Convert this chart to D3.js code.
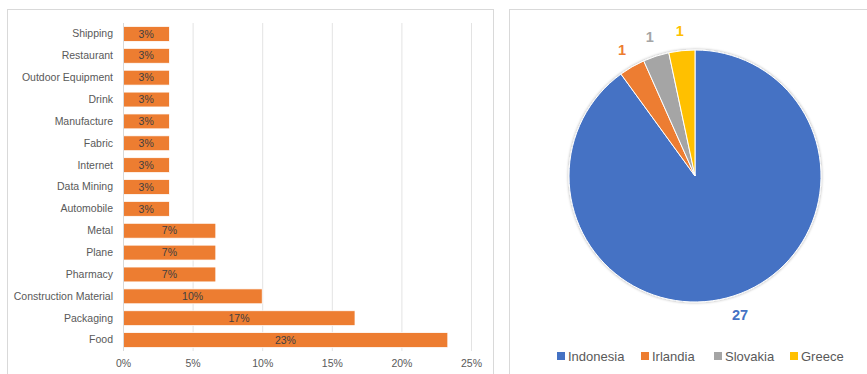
<!DOCTYPE html>
<html>
<head>
<meta charset="utf-8">
<script src="https://cdn.jsdelivr.net/npm/d3@7"></script>
<style>
  body { margin: 0; background: #fff; }
  text { font-family: "Liberation Sans", "DejaVu Sans", sans-serif; }
</style>
</head>
<body>
<script>
// bar chart data (share of companies per industry)
const industries = ["Shipping", "Restaurant", "Outdoor Equipment", "Drink", "Manufacture",
    "Fabric", "Internet", "Data Mining", "Automobile", "Metal", "Plane", "Pharmacy",
    "Construction Material", "Packaging", "Food"];
const industryShare = [1/30, 1/30, 1/30, 1/30, 1/30, 1/30, 1/30, 1/30, 1/30,
    2/30, 2/30, 2/30, 3/30, 5/30, 7/30];
const shareTicks = [0, 0.05, 0.10, 0.15, 0.20, 0.25];

// pie chart data (companies per country)
const countries = ["Indonesia", "Irlandia", "Slovakia", "Greece"];
const countryCounts = [27, 1, 1, 1];
const countryColors = ["#4472C4", "#ED7D31", "#A5A5A5", "#FFC000"];

const W = 867, H = 374;
const svg = d3.select("body").append("svg")
    .attr("width", W)
    .attr("height", H);

/** panel frames */
svg.append("rect")
    .attr("x", 7.5).attr("y", 9.5)
    .attr("width", 486).attr("height", 370)
    .attr("fill", "#fff")
    .attr("stroke", "#d9d9d9");
svg.append("rect")
    .attr("x", 509.5).attr("y", 9.5)
    .attr("width", 370).attr("height", 370)
    .attr("fill", "#fff")
    .attr("stroke", "#d9d9d9");

/** bar chart */
const plot = { left: 123, right: 471, top: 23, bottom: 351 };
const x = d3.scaleLinear()
    .domain([0, 0.25])
    .range([plot.left, plot.right]);
const y = d3.scaleBand()
    .domain(industries)
    .range([plot.top, plot.bottom])
    .paddingInner(0.32)
    .paddingOuter(0.16);

const bar = svg.append("g").attr("class", "barChart");

// grid
bar.append("g")
    .attr("class", "grid")
    .selectAll("line")
    .data(shareTicks.slice(1))
    .enter().append("line")
    .attr("x1", d => x(d) + 0.5)
    .attr("x2", d => x(d) + 0.5)
    .attr("y1", plot.top)
    .attr("y2", plot.bottom)
    .attr("stroke", "#e3e3e3")
    .attr("stroke-width", 1);

// x axis labels
const axisX = d3.axisBottom(x)
    .tickValues(shareTicks)
    .tickSize(0)
    .tickPadding(9)
    .tickFormat(d3.format(".0%"));
const gx = bar.append("g")
    .attr("class", "axis_x")
    .attr("transform", `translate(0, ${plot.bottom})`)
    .call(axisX);
gx.select(".domain").remove();
gx.selectAll("text")
    .attr("font-size", 10.5)
    .attr("fill", "#595959")
    .style("font-family", "Liberation Sans, sans-serif");

// y axis labels
const axisY = d3.axisLeft(y)
    .tickSize(0)
    .tickPadding(10);
const gy = bar.append("g")
    .attr("class", "axis_y")
    .attr("transform", `translate(${plot.left}, 0)`)
    .call(axisY);
gy.select(".domain").remove();
gy.selectAll("text")
    .attr("font-size", 10.5)
    .attr("fill", "#595959")
    .style("font-family", "Liberation Sans, sans-serif");

// bars
bar.append("g")
    .attr("class", "bars")
    .selectAll("rect")
    .data(industries)
    .enter().append("rect")
    .attr("x", x(0))
    .attr("y", d => y(d))
    .attr("width", (d, i) => x(industryShare[i]) - x(0))
    .attr("height", y.bandwidth())
    .attr("fill", "#ED7D31")
    .attr("stroke", "#fff")
    .attr("stroke-width", 0.75);

// zero line
bar.append("line")
    .attr("x1", x(0) + 0.5).attr("x2", x(0) + 0.5)
    .attr("y1", plot.top).attr("y2", plot.bottom)
    .attr("stroke", "#d9d9d9");

// bar labels
bar.append("g")
    .attr("class", "barLabels")
    .selectAll("text")
    .data(industries)
    .enter().append("text")
    .attr("x", (d, i) => (x(0) + x(industryShare[i])) / 2)
    .attr("y", d => y(d) + y.bandwidth() / 2)
    .attr("dy", "0.35em")
    .attr("text-anchor", "middle")
    .attr("font-size", 10.5)
    .attr("fill", "#404040")
    .text((d, i) => d3.format(".0%")(industryShare[i]));

/** pie chart */
const cx = 695, cy = 176, R = 126;
const pie = d3.pie().sort(null).value(d => d)(countryCounts);
const arc = d3.arc().innerRadius(0).outerRadius(R);
const labelArc = d3.arc().innerRadius(R + 20).outerRadius(R + 20);

const defs = svg.append("defs");
const shadow = defs.append("filter")
    .attr("id", "pieShadow")
    .attr("x", "-10%").attr("y", "-10%")
    .attr("width", "120%").attr("height", "120%");
shadow.append("feGaussianBlur")
    .attr("in", "SourceAlpha")
    .attr("stdDeviation", 1.5);
shadow.append("feOffset").attr("dx", 0).attr("dy", 0).attr("result", "blur");
shadow.append("feComponentTransfer")
    .append("feFuncA").attr("type", "linear").attr("slope", 0.35);
const merge = shadow.append("feMerge");
merge.append("feMergeNode");
merge.append("feMergeNode").attr("in", "SourceGraphic");

const pieG = svg.append("g")
    .attr("class", "pieChart")
    .attr("transform", `translate(${cx}, ${cy})`);

pieG.append("g")
    .attr("filter", "url(#pieShadow)")
    .selectAll("path")
    .data(pie)
    .enter().append("path")
    .attr("d", arc)
    .attr("fill", (d, i) => countryColors[i])
    .attr("stroke", "#fff")
    .attr("stroke-width", 1);

pieG.append("g")
    .selectAll("text")
    .data(pie)
    .enter().append("text")
    .attr("transform", d => `translate(${labelArc.centroid(d)})`)
    .attr("dy", "0.35em")
    .attr("text-anchor", "middle")
    .attr("font-size", 14.5)
    .attr("font-weight", "bold")
    .attr("fill", (d, i) => countryColors[i])
    .text(d => d.data);

// legend
const legendX = [557, 641, 714, 790];
const legend = svg.append("g")
    .attr("class", "legend")
    .selectAll("g")
    .data(countries)
    .enter().append("g")
    .attr("transform", (d, i) => `translate(${legendX[i]}, 356)`);
legend.append("rect")
    .attr("x", 0).attr("y", -4)
    .attr("width", 8).attr("height", 8)
    .attr("fill", (d, i) => countryColors[i]);
legend.append("text")
    .attr("x", 11)
    .attr("dy", "0.35em")
    .attr("font-size", 13)
    .attr("fill", "#595959")
    .text(d => d);
</script>
</body>
</html>
